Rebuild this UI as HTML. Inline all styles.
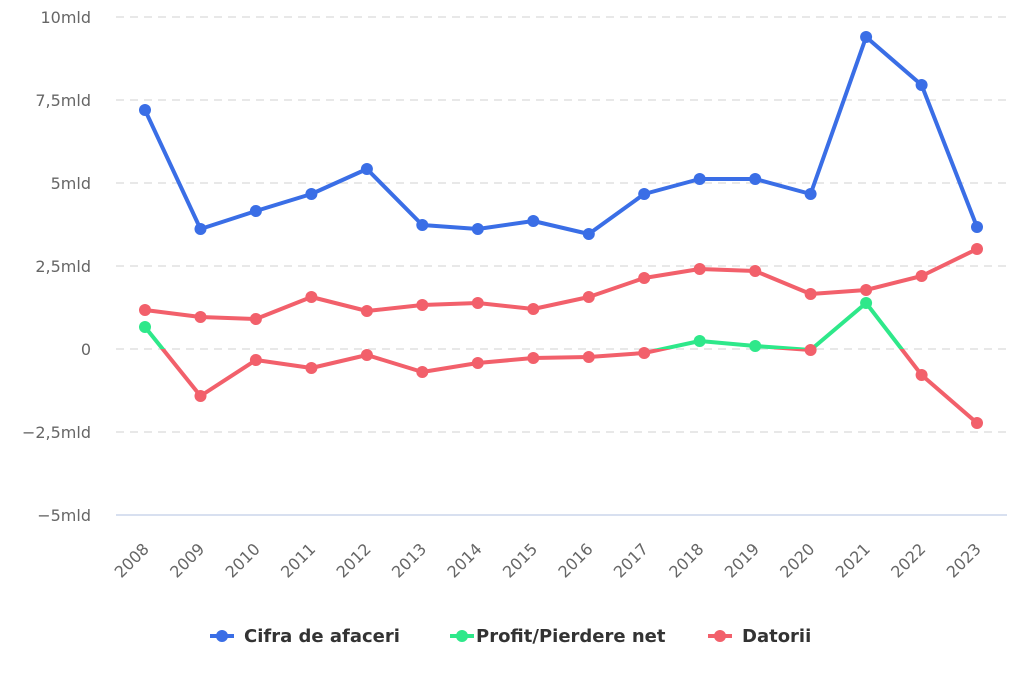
<!DOCTYPE html>
<html><head><meta charset="utf-8"><style>
html,body{margin:0;padding:0;background:#fff;}
svg{display:block;font-family:"DejaVu Sans","Liberation Sans",sans-serif;}
</style></head><body>
<svg width="1024" height="683" viewBox="0 0 1024 683">
<defs>
<clipPath id="above"><rect x="0" y="0" width="1024" height="349"/></clipPath>
<clipPath id="below"><rect x="0" y="349" width="1024" height="334"/></clipPath>
</defs>
<g stroke="#e0e0e0" stroke-width="1.5" stroke-dasharray="8,6">
<line x1="116" y1="17" x2="1007" y2="17"/>
<line x1="116" y1="100" x2="1007" y2="100"/>
<line x1="116" y1="183" x2="1007" y2="183"/>
<line x1="116" y1="266" x2="1007" y2="266"/>
<line x1="116" y1="349" x2="1007" y2="349"/>
<line x1="116" y1="432" x2="1007" y2="432"/>
</g>
<line x1="116" y1="515" x2="1007" y2="515" stroke="#ccd6eb" stroke-width="1.5"/>
<g fill="#666" font-size="16" text-anchor="end">
<text x="91" y="23">10mld</text>
<text x="91" y="106">7,5mld</text>
<text x="91" y="189">5mld</text>
<text x="91" y="272">2,5mld</text>
<text x="91" y="355">0</text>
<text x="91" y="438">−2,5mld</text>
<text x="91" y="521">−5mld</text>
</g>
<g fill="#666" font-size="16" text-anchor="end">
<text transform="translate(150,550) rotate(-45)">2008</text>
<text transform="translate(205.5,550) rotate(-45)">2009</text>
<text transform="translate(260.9,550) rotate(-45)">2010</text>
<text transform="translate(316.4,550) rotate(-45)">2011</text>
<text transform="translate(371.9,550) rotate(-45)">2012</text>
<text transform="translate(427.3,550) rotate(-45)">2013</text>
<text transform="translate(482.8,550) rotate(-45)">2014</text>
<text transform="translate(538.3,550) rotate(-45)">2015</text>
<text transform="translate(593.8,550) rotate(-45)">2016</text>
<text transform="translate(649.2,550) rotate(-45)">2017</text>
<text transform="translate(704.7,550) rotate(-45)">2018</text>
<text transform="translate(760.2,550) rotate(-45)">2019</text>
<text transform="translate(815.6,550) rotate(-45)">2020</text>
<text transform="translate(871.1,550) rotate(-45)">2021</text>
<text transform="translate(926.6,550) rotate(-45)">2022</text>
<text transform="translate(982,550) rotate(-45)">2023</text>
</g>
<polyline fill="none" stroke="#f2606b" stroke-width="4" stroke-linejoin="round" points="145,310 200.5,317 255.9,319 311.4,297 366.9,311 422.3,305 477.8,303 533.3,309 588.8,297 644.2,278 699.7,269 755.2,271 810.6,294 866.1,290 921.6,276 977,249"/>
<g fill="#f2606b">
<circle cx="145" cy="310" r="6"/><circle cx="200.5" cy="317" r="6"/><circle cx="255.9" cy="319" r="6"/><circle cx="311.4" cy="297" r="6"/><circle cx="366.9" cy="311" r="6"/><circle cx="422.3" cy="305" r="6"/><circle cx="477.8" cy="303" r="6"/><circle cx="533.3" cy="309" r="6"/><circle cx="588.8" cy="297" r="6"/><circle cx="644.2" cy="278" r="6"/><circle cx="699.7" cy="269" r="6"/><circle cx="755.2" cy="271" r="6"/><circle cx="810.6" cy="294" r="6"/><circle cx="866.1" cy="290" r="6"/><circle cx="921.6" cy="276" r="6"/><circle cx="977" cy="249" r="6"/>
</g>
<g fill="none" stroke-width="4" stroke-linejoin="round">
<polyline clip-path="url(#above)" stroke="#2ee88a" points="145,327 200.5,396 255.9,360 311.4,368 366.9,355 422.3,372 477.8,363 533.3,358 588.8,357 644.2,353 699.7,341 755.2,346 810.6,350 866.1,303 921.6,375 977,423"/>
<polyline clip-path="url(#below)" stroke="#f2606b" points="145,327 200.5,396 255.9,360 311.4,368 366.9,355 422.3,372 477.8,363 533.3,358 588.8,357 644.2,353 699.7,341 755.2,346 810.6,350 866.1,303 921.6,375 977,423"/>
</g>
<g fill="#f2606b">
<circle cx="200.5" cy="396" r="6"/><circle cx="255.9" cy="360" r="6"/><circle cx="311.4" cy="368" r="6"/><circle cx="366.9" cy="355" r="6"/><circle cx="422.3" cy="372" r="6"/><circle cx="477.8" cy="363" r="6"/><circle cx="533.3" cy="358" r="6"/><circle cx="588.8" cy="357" r="6"/><circle cx="644.2" cy="353" r="6"/><circle cx="810.6" cy="350" r="6"/><circle cx="921.6" cy="375" r="6"/><circle cx="977" cy="423" r="6"/>
</g>
<g fill="#2ee88a">
<circle cx="145" cy="327" r="6"/><circle cx="699.7" cy="341" r="6"/><circle cx="755.2" cy="346" r="6"/><circle cx="866.1" cy="303" r="6"/>
</g>
<polyline fill="none" stroke="#3a6ee6" stroke-width="4" stroke-linejoin="round" points="145,110 200.5,229 255.9,211 311.4,194 366.9,169 422.3,225 477.8,229 533.3,221 588.8,234 644.2,194 699.7,179 755.2,179 810.6,194 866.1,37 921.6,85 977,227"/>
<g fill="#3a6ee6">
<circle cx="145" cy="110" r="6"/><circle cx="200.5" cy="229" r="6"/><circle cx="255.9" cy="211" r="6"/><circle cx="311.4" cy="194" r="6"/><circle cx="366.9" cy="169" r="6"/><circle cx="422.3" cy="225" r="6"/><circle cx="477.8" cy="229" r="6"/><circle cx="533.3" cy="221" r="6"/><circle cx="588.8" cy="234" r="6"/><circle cx="644.2" cy="194" r="6"/><circle cx="699.7" cy="179" r="6"/><circle cx="755.2" cy="179" r="6"/><circle cx="810.6" cy="194" r="6"/><circle cx="866.1" cy="37" r="6"/><circle cx="921.6" cy="85" r="6"/><circle cx="977" cy="227" r="6"/>
</g>
<g font-size="18" font-weight="bold" fill="#333">
<line x1="210" y1="636" x2="234" y2="636" stroke="#3a6ee6" stroke-width="4"/><circle cx="222" cy="636" r="6" fill="#3a6ee6"/>
<text x="244" y="642">Cifra de afaceri</text>
<line x1="450" y1="636" x2="474" y2="636" stroke="#2ee88a" stroke-width="4"/><circle cx="462" cy="636" r="6" fill="#2ee88a"/>
<text x="476" y="642">Profit/Pierdere net</text>
<line x1="708" y1="636" x2="732" y2="636" stroke="#f2606b" stroke-width="4"/><circle cx="720" cy="636" r="6" fill="#f2606b"/>
<text x="742" y="642">Datorii</text>
</g>
</svg>
</body></html>
